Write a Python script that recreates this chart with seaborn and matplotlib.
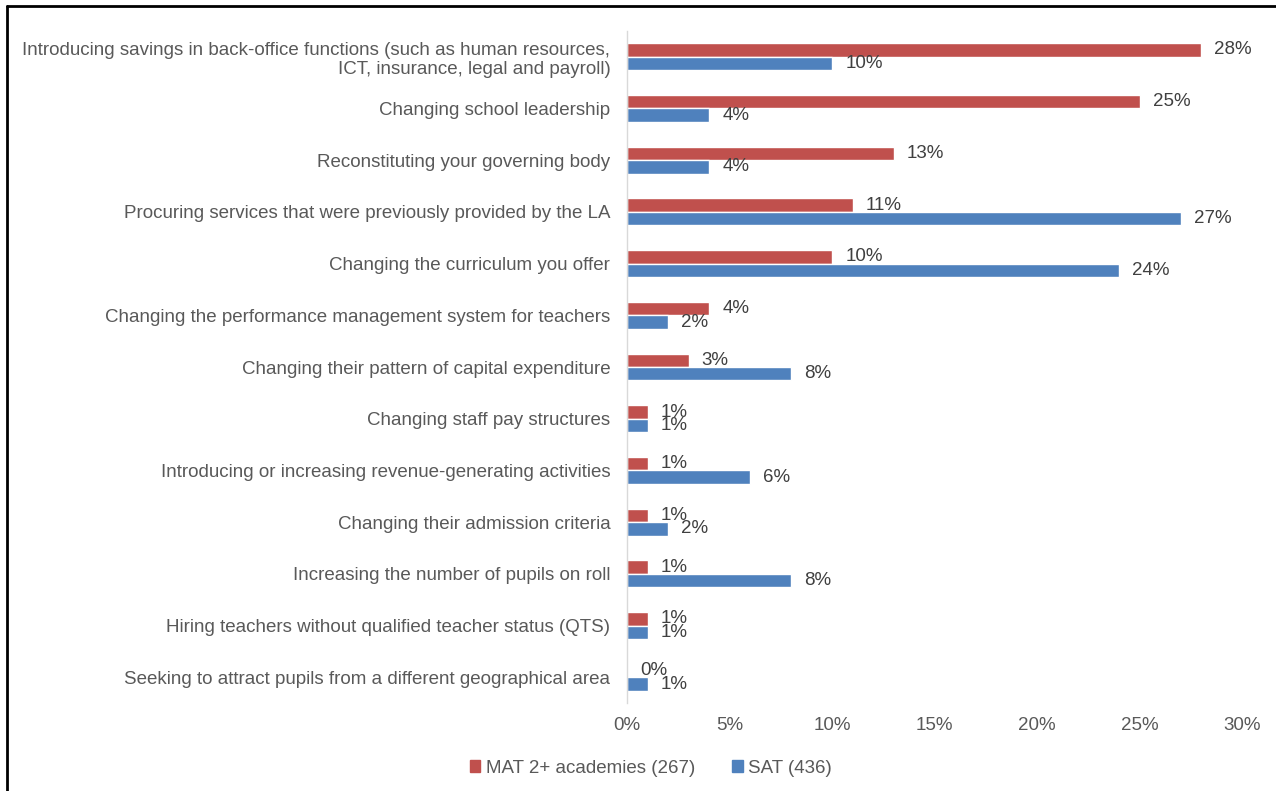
import matplotlib
matplotlib.use("Agg")
import matplotlib.pyplot as plt
import matplotlib.lines as mlines
from matplotlib.ticker import FuncFormatter
import seaborn as sns
import pandas as pd

categories = [
    "Introducing savings in back-office functions (such as human resources,\nICT, insurance, legal and payroll)",
    "Changing school leadership",
    "Reconstituting your governing body",
    "Procuring services that were previously provided by the LA",
    "Changing the curriculum you offer",
    "Changing the performance management system for teachers",
    "Changing their pattern of capital expenditure",
    "Changing staff pay structures",
    "Introducing or increasing revenue-generating activities",
    "Changing their admission criteria",
    "Increasing the number of pupils on roll",
    "Hiring teachers without qualified teacher status (QTS)",
    "Seeking to attract pupils from a different geographical area",
]
series_names = ["MAT 2+ academies (267)", "SAT (436)"]
mat_values = [28, 25, 13, 11, 10, 4, 3, 1, 1, 1, 1, 1, 0]
sat_values = [10, 4, 4, 27, 24, 2, 8, 1, 6, 2, 8, 1, 1]
x_ticks = [0, 5, 10, 15, 20, 25, 30]

colors = ["#C0504D", "#4F81BD"]
text_color = "#595959"
fs = 13.5

df = pd.DataFrame({
    "category": categories * 2,
    "series": [series_names[0]] * len(categories) + [series_names[1]] * len(categories),
    "value": mat_values + sat_values,
})

sns.set_theme(style="white")
plt.rcParams["font.family"] = ["Liberation Sans", "DejaVu Sans"]

fig = plt.figure(figsize=(12.76, 7.91), dpi=100)
ax = fig.add_axes([0.4914, 0.111, 0.4820, 0.850])

sns.barplot(data=df, x="value", y="category", hue="series", order=categories,
            hue_order=series_names, palette=colors, orient="h", width=0.52,
            saturation=1, ax=ax, legend=False)

for cont in ax.containers:
    ax.bar_label(cont, fmt="%.0f%%", padding=9.5, fontsize=fs, color="#404040")

ax.set_xlim(0, 30)
ax.set_xticks(x_ticks)
ax.xaxis.set_major_formatter(FuncFormatter(lambda v, p: f"{v:.0f}%"))
ax.set_xlabel("")
ax.set_ylabel("")
ax.tick_params(axis="x", length=0, labelsize=fs, labelcolor=text_color, pad=10)
ax.tick_params(axis="y", length=0, labelsize=fs, labelcolor=text_color, pad=12)
for s in ["top", "right", "bottom"]:
    ax.spines[s].set_visible(False)
ax.spines["left"].set_color("#D9D9D9")
ax.spines["left"].set_linewidth(1.0)
ax.grid(False)

handles = [plt.Rectangle((0, 0), 1, 1, color=c) for c in colors]
fig.legend(handles, series_names, loc="center", bbox_to_anchor=(0.51, 0.029),
           ncol=2, frameon=False, fontsize=fs, handlelength=0.55, handleheight=0.55,
           handletextpad=0.3, columnspacing=2.0, labelcolor=text_color)

# outer frame lines (left and top)
fig.add_artist(mlines.Line2D([7 / 1276, 7 / 1276], [0, 1 - 6 / 791], color="black", lw=2,
                             transform=fig.transFigure))
fig.add_artist(mlines.Line2D([7 / 1276, 1], [1 - 6 / 791, 1 - 6 / 791], color="black", lw=2,
                             transform=fig.transFigure))

fig.savefig("out.png", dpi=100)
